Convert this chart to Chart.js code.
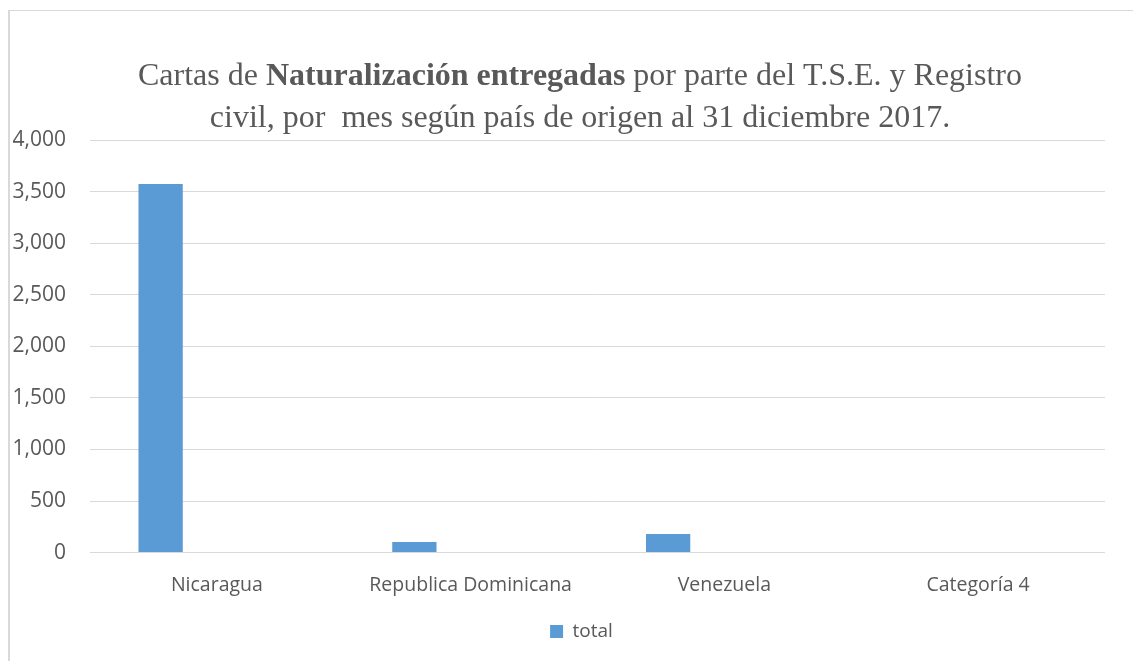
<!DOCTYPE html>
<html>
<head>
<meta charset="utf-8">
<script src="https://cdn.jsdelivr.net/npm/chart.js@4"></script>
<style>
  html, body { margin: 0; padding: 0; background: #fff; }
  #wrap { position: relative; width: 1133px; height: 661px; }
</style>
</head>
<body>
<div id="wrap"><canvas id="chart" width="1133" height="661"></canvas></div>
<script>
// Data
const categories = ['Nicaragua', 'Republica Dominicana', 'Venezuela', 'Categoría 4'];
const total = [3574, 102, 181, null];
// empty series kept so the bar sits where Excel put it (3 series, 2 empty)
const serie2 = [null, null, null, null];
const serie3 = [null, null, null, null];
const yMin = 0, yMax = 4000, yStep = 500;
const titleLines = [
  [['Cartas de ', false], ['Naturalización entregadas', true], [' por parte del T.S.E. y Registro', false]],
  [['civil, por  mes según país de origen al 31 diciembre 2017.', false]]
];

const TEXT = '#595959';
const GRID = '#d9d9d9';
const SANS = '"Open Sans", "Noto Sans", sans-serif';

// title has a bold run in the middle, Chart.js title can't do that
const mixedTitle = {
  id: 'mixedTitle',
  afterDraw(chart) {
    const ctx = chart.ctx;
    const font = b => (b ? 'bold ' : '') + '32px "Liberation Serif", "Times New Roman", serif';
    const cx = 580, ys = [85, 127];
    ctx.save();
    ctx.fillStyle = TEXT;
    ctx.textAlign = 'left';
    ctx.textBaseline = 'alphabetic';
    titleLines.forEach((runs, i) => {
      const widths = runs.map(([t, b]) => { ctx.font = font(b); return ctx.measureText(t).width; });
      let x = cx - widths.reduce((a, w) => a + w, 0) / 2;
      runs.forEach(([t, b], j) => {
        ctx.font = font(b);
        ctx.fillText(t, x, ys[i]);
        x += widths[j];
      });
    });
    ctx.restore();
  }
};

// chart frame, only top and left edges show in the picture
const frame = {
  id: 'frame',
  beforeDraw(chart) {
    const ctx = chart.ctx;
    ctx.save();
    ctx.fillStyle = GRID;
    ctx.fillRect(8, 10, chart.width, 1);
    ctx.fillRect(8, 10, 2, chart.height);
    ctx.restore();
  }
};

// Excel centres the legend on the whole chart box, which runs past the right edge
const legendShift = {
  id: 'legendShift',
  afterLayout(chart) {
    chart.legend.left += 25;
    chart.legend.right += 25;
  }
};

new Chart(document.getElementById('chart'), {
  type: 'bar',
  data: {
    labels: categories,
    datasets: [
      { label: 'total', data: total, backgroundColor: '#5B9BD5', borderWidth: 0 },
      { label: 'Serie 2', data: serie2, backgroundColor: '#ED7D31', borderWidth: 0 },
      { label: 'Serie 3', data: serie3, backgroundColor: '#A5A5A5', borderWidth: 0 }
    ]
  },
  options: {
    responsive: false,
    animation: false,
    layout: { padding: { left: 8, right: 28, top: 140, bottom: 10 } },
    datasets: { bar: { categoryPercentage: 0.665, barPercentage: 0.787 } },
    plugins: {
      title: { display: false },
      tooltip: { enabled: false },
      legend: {
        position: 'bottom',
        labels: {
          filter: item => item.datasetIndex === 0,
          boxWidth: 13, boxHeight: 13, padding: 4,
          color: TEXT, font: { family: SANS, size: 19 }
        }
      }
    },
    scales: {
      x: {
        grid: { display: false, drawTicks: false },
        border: { display: false },
        ticks: { padding: 21, color: TEXT, font: { family: SANS, size: 19.5 }, maxRotation: 0, autoSkip: false }
      },
      y: {
        min: yMin, max: yMax,
        afterFit: s => { s.width = 82; },
        grid: { color: GRID, lineWidth: 1, drawTicks: false },
        border: { display: false },
        ticks: {
          stepSize: yStep, padding: 24, color: TEXT, font: { family: SANS, size: 21 },
          callback: v => v.toLocaleString('en-US')
        }
      }
    }
  },
  plugins: [frame, legendShift, mixedTitle]
});
</script>
</body>
</html>
